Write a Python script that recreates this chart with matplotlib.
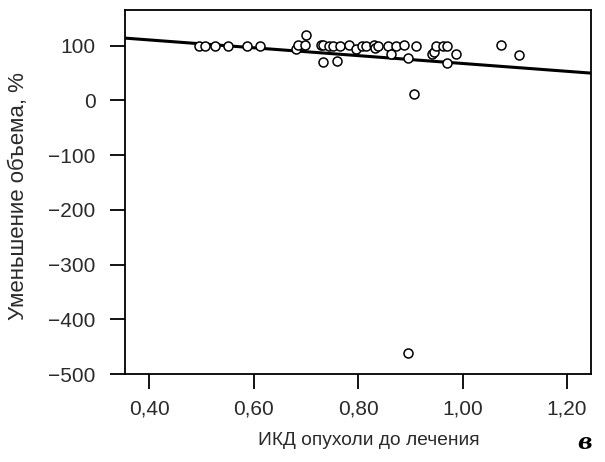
import matplotlib
matplotlib.use("Agg")
import matplotlib.pyplot as plt
from matplotlib.ticker import FuncFormatter

plt.rcParams['font.family'] = ['Liberation Sans', 'DejaVu Sans']

# ИКД опухоли до лечения vs уменьшение объема, %
ikd = [0.496, 0.507, 0.526, 0.551, 0.587, 0.612, 0.681, 0.685, 0.698, 0.700,
       0.728, 0.732, 0.733, 0.744, 0.751, 0.759, 0.765, 0.783, 0.795, 0.807,
       0.815, 0.830, 0.833, 0.838, 0.857, 0.863, 0.873, 0.887, 0.896, 0.910,
       0.907, 0.942, 0.945, 0.949, 0.963, 0.970, 0.971, 0.988, 1.073, 1.108,
       0.896]
reduction = [100, 100, 99, 99, 99, 100, 94, 101, 101, 120,
             101, 101, 70, 100, 100, 73, 100, 101, 94, 100,
             100, 101, 95, 100, 100, 85, 100, 101, 78, 100,
             12, 85, 89, 99, 100, 100, 69, 85, 101, 84,
             -462]

# regression line ends
fit_x = [0.353, 1.246]
fit_y = [114, 50]

xticks = [0.40, 0.60, 0.80, 1.00, 1.20]
yticks = [100, 0, -100, -200, -300, -400, -500]

txt = '#2a2a2a'

fig = plt.figure(figsize=(6.05, 4.62), dpi=100)
ax = fig.add_axes([0.206, 0.19, 0.771, 0.788])

ax.plot(fit_x, fit_y, color='black', lw=2.2, zorder=2)
ax.scatter(ikd, reduction, s=42, facecolors='white', edgecolors='black',
           linewidths=1.1, zorder=3)

ax.set_xlim(0.353, 1.246)
ax.set_ylim(-500, 165)
ax.set_xticks(xticks)
ax.set_yticks(yticks)
ax.xaxis.set_major_formatter(FuncFormatter(lambda v, p: f"{v:.2f}".replace('.', ',')))
ax.yaxis.set_major_formatter(FuncFormatter(lambda v, p: f"{v:.0f}".replace('-', '\u2212')))

for s in ax.spines.values():
    s.set_linewidth(1.3)
ax.tick_params(direction='out', length=11, width=1.3, labelsize=15,
               colors='black', labelcolor=txt)
ax.tick_params(axis='y', pad=10)
ax.tick_params(axis='x', pad=7)

ax.set_xlabel('ИКД опухоли до лечения', fontsize=13.8, color=txt)
ax.set_ylabel('Уменьшение объема, %', fontsize=16, color=txt)
ax.xaxis.set_label_coords(0.524, -0.158)
ax.yaxis.set_label_coords(-0.205, 0.489)

fig.text(0.978, 0.028, 'в', fontsize=16, fontweight='bold', fontstyle='italic',
         family='DejaVu Serif', ha='right', va='baseline')

fig.savefig('out.png', dpi=100)
